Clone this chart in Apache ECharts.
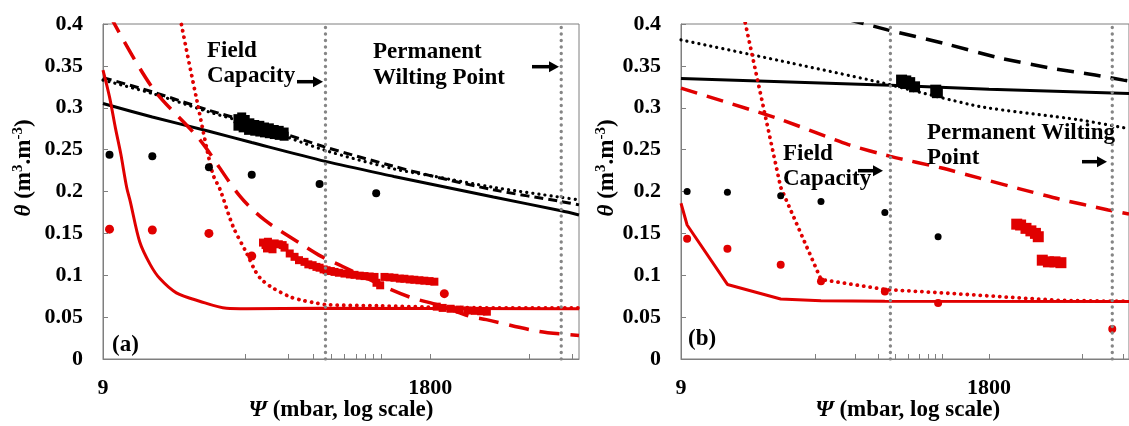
<!DOCTYPE html>
<html><head><meta charset="utf-8">
<script src="https://cdn.jsdelivr.net/npm/echarts@6/dist/echarts.min.js"></script>
<style>html,body{margin:0;padding:0;background:#fff}#c{width:1129px;height:426px}</style>
</head><body><div id="c"></div>
<script>
// ---------- axis data ----------
const xMin = 9, xMax = 20000;
const xTickLabels = [9, 1800];
const xTicks = [9, 90, 180, 270, 360, 450, 540, 630, 720, 810, 1800, 9000, 18000];
const yMin = 0, yMax = 0.4, yStep = 0.05;
const fieldCapacity = 330;
const wiltingPoint = 15000;

// ---------- panel (a) ----------
const aBlackSolid = [[9,0.305],[20,0.289],[50,0.272],[100,0.2585],[330,0.236],[1000,0.218],[1800,0.209],[5000,0.1934],[15000,0.177],[20000,0.172]];
const aBlackDashed = [[9,0.336],[20,0.319],[50,0.297],[100,0.282],[330,0.253],[1000,0.230],[1800,0.219],[5000,0.202],[15000,0.188],[20000,0.184]];
const aBlackDotted = [[9,0.333],[20,0.317],[50,0.295],[100,0.280],[330,0.249],[1000,0.227],[1800,0.219],[5000,0.205],[15000,0.193],[20000,0.190]];
const aRedSolid = [[9,0.345],[10,0.313],[11,0.276],[12,0.245],[13.2,0.205],[14,0.188],[16.3,0.140],[19.3,0.113],[22.6,0.096],[29.5,0.079],[43,0.069],[66.5,0.0605],[92,0.060],[300,0.0605],[20000,0.060]];
const aRedDashed = [[10,0.411],[20,0.324],[43,0.262],[82,0.195],[123,0.166],[217,0.1385],[308,0.1225],[436,0.1105],[900,0.0847],[1350,0.0728],[2090,0.064],[3400,0.051],[4460,0.047],[10440,0.033],[20000,0.028]];
const aRedDotted = [[30,0.43],[32,0.40],[41,0.31],[53,0.222],[60,0.202],[74,0.158],[92,0.1265],[106,0.105],[117,0.095],[140,0.085],[185,0.0744],[227,0.070],[284,0.0668],[336,0.0648],[792,0.0635],[1760,0.062],[4000,0.0612],[20000,0.061]];
const aBlackDots = [[10,0.244],[20,0.242],[50,0.229],[100,0.220],[300,0.209],[750,0.198]];
const aRedDots = [[10,0.155],[20,0.154],[50,0.150],[100,0.123],[2260,0.078]];
const aBlackSquares = [[80,0.287],[85,0.289],[90,0.286],[97,0.282],[105,0.280],[114,0.279],[123,0.277],[133,0.276],[144,0.274],[156,0.273],[169,0.271],
  [80,0.278],[87,0.276],[95,0.273],[105,0.272],[114,0.271],[123,0.270],[133,0.269],[144,0.268],[156,0.267],[169,0.266]];
const aRedSquares = [[120,0.139],[125,0.136],[130,0.140],[135,0.137],[145,0.138],[155,0.137],[165,0.136],[128,0.132],[140,0.131],[170,0.133],
  [185,0.126],[200,0.122],[215,0.118],[235,0.116],[250,0.113],[268,0.112],[285,0.110],[300,0.109],[320,0.107],[336,0.106],[360,0.105],[382,0.104],
  [410,0.103],[449,0.102],[490,0.101],[528,0.1005],[575,0.0995],[621,0.099],[675,0.0985],[730,0.098],[754,0.091],[800,0.088],[858,0.098],[930,0.0975],
  [1008,0.097],[1100,0.096],[1184,0.0958],[1290,0.095],[1391,0.0946],[1510,0.094],[1636,0.0935],[1780,0.093],[1924,0.0923],
  [2000,0.0625],[2200,0.061],[2500,0.060],[2900,0.059],[3300,0.058],[3700,0.0575],[4100,0.057],[4500,0.0565]];

// ---------- panel (b) ----------
const bBlackSolid = [[9,0.335],[330,0.327],[1800,0.322],[20000,0.317]];
const bBlackDashed = [[100,0.414],[314,0.393],[824,0.377],[2130,0.3596],[5350,0.347],[11160,0.339],[18200,0.333],[20000,0.332]];
const bBlackDotted = [[9,0.381],[50,0.356],[265,0.331],[1530,0.3015],[8370,0.2857],[20000,0.275]];
const bRedSolid = [[9,0.186],[10,0.160],[20,0.089],[50,0.0716],[100,0.0695],[300,0.069],[20000,0.0688]];
const bRedDashed = [[9,0.3235],[48,0.287],[160,0.256],[330,0.242],[800,0.228],[1530,0.216],[3000,0.2035],[6000,0.191],[14000,0.178],[20000,0.173]];
const bRedDotted = [[20,0.50],[50,0.205],[100,0.095],[300,0.083],[1000,0.078],[3000,0.073],[6000,0.070],[15000,0.069],[20000,0.069]];
const bBlackDots = [[10,0.200],[20,0.199],[50,0.195],[100,0.188],[300,0.175],[750,0.146]];
const bRedDots = [[10,0.1436],[20,0.1317],[50,0.1126],[100,0.0927],[300,0.0807],[750,0.0668],[15000,0.0358]];
const bBlackSquares = [[400,0.333],[415,0.330],[430,0.332],[445,0.329],[460,0.330],[500,0.325],[720,0.321],[740,0.318]];
const bRedSquares = [[2900,0.161],[3100,0.160],[3400,0.156],[3700,0.153],[4000,0.150],[4200,0.146],[4500,0.118],[5000,0.116],[5600,0.116],[6200,0.115]];

// ---------- styling ----------
const FONT = '"Liberation Serif", "Times New Roman", serif';
const RED = '#e00000';
const GRAY = '#868686';
const AXIS = '#7f7f7f';
const DOT = [0.1, 6];

function line(data, xi, yi, color, dash, width, smooth, cap) {
  return { type: 'line', xAxisIndex: xi, yAxisIndex: yi, data: data, symbol: 'none', showSymbol: false,
    smooth: smooth, silent: true, clip: true,
    lineStyle: { color: color, width: width, type: dash, cap: cap || 'butt' } };
}
function pts(data, xi, yi, color, symbol, size) {
  return { type: 'scatter', xAxisIndex: xi, yAxisIndex: yi, data: data, symbol: symbol, symbolSize: size,
    silent: true, itemStyle: { color: color, opacity: 1 }, z: 5 };
}
function vline(v, xi, yi) {
  return { type: 'line', xAxisIndex: xi, yAxisIndex: yi, data: [[v, yMin], [v, yMax]], symbol: 'none', silent: true, z: 6,
    lineStyle: { color: GRAY, width: 3.4, type: [0.1, 6.4], cap: 'round' } };
}

function logAxis(gi) {
  return { type: 'log', gridIndex: gi, logBase: 10, min: xMin, max: xMax, position: 'bottom',
    axisLine: { show: true, lineStyle: { color: AXIS, width: 1 } }, axisTick: { show: false },
    axisLabel: { show: false }, splitLine: { show: false }, minorTick: { show: false } };
}
function tickAxis(gi) {
  return { type: 'value', gridIndex: gi, min: Math.log10(xMin), max: Math.log10(xMax), position: 'bottom',
    axisLine: { show: false },
    axisTick: { show: true, inside: true, length: 5, customValues: xTicks.map(Math.log10), lineStyle: { color: AXIS } },
    axisLabel: { show: true, customValues: xTickLabels.map(Math.log10), margin: 18,
      formatter: v => String(Math.round(Math.pow(10, v))),
      fontFamily: FONT, fontWeight: 'bold', fontSize: 22, color: '#000' },
    splitLine: { show: false } };
}
function yAx(gi) {
  return { type: 'value', gridIndex: gi, min: yMin, max: yMax, interval: yStep,
    axisLine: { show: true, lineStyle: { color: AXIS } },
    axisTick: { show: true, inside: true, length: 5, lineStyle: { color: AXIS } },
    axisLabel: { margin: 20, fontFamily: FONT, fontWeight: 'bold', fontSize: 22, color: '#000',
      formatter: v => String(+v.toFixed(2)) },
    splitLine: { show: false } };
}

const F23 = 'bold 23px ' + FONT;
function txt(s, x, y, align) {
  return { type: 'text', x: x, y: y, silent: true, z: 10,
    style: { text: s, font: F23, fill: '#000', align: align || 'left', verticalAlign: 'middle' } };
}
function arrow(x1, x2, y) {
  return { type: 'group', silent: true, z: 10, children: [
    { type: 'line', shape: { x1: x1, y1: y, x2: x2 - 8, y2: y }, style: { stroke: '#000', lineWidth: 3.5 } },
    { type: 'polygon', shape: { points: [[x2 - 10, y - 5.5], [x2, y], [x2 - 10, y + 5.5]] }, style: { fill: '#000' } }
  ] };
}
function yTitle(x, y) {
  return { type: 'text', x: x, y: y, rotation: Math.PI / 2, silent: true, z: 10,
    style: { text: '{t|θ}{n| (m}{s|3}{n|.m}{s|-3}{n|)}', align: 'center', verticalAlign: 'middle', fill: '#000',
      rich: {
        t: { font: 'italic bold 23px ' + FONT, lineHeight: 25, verticalAlign: 'bottom' },
        n: { font: F23, lineHeight: 25, verticalAlign: 'bottom' },
        s: { font: 'bold 15px ' + FONT, lineHeight: 15, verticalAlign: 'top' }
      } } };
}
function xTitle(x, y) {
  return { type: 'text', x: x, y: y, silent: true, z: 10,
    style: { text: '{t|Ψ}{n| (mbar, log scale)}', align: 'center', verticalAlign: 'middle', fill: '#000',
      rich: { t: { font: 'italic bold 23px ' + FONT }, n: { font: F23 } } } };
}

const option = {
  animation: false,
  backgroundColor: '#fff',
  grid: [
    { left: 103, top: 24, width: 476, height: 335, show: true, borderColor: AXIS, borderWidth: 1, backgroundColor: 'transparent' },
    { left: 681, top: 24, width: 453.5, height: 335, show: true, borderColor: AXIS, borderWidth: 1, backgroundColor: 'transparent' }
  ],
  xAxis: [logAxis(0), tickAxis(0), logAxis(1), tickAxis(1)],
  yAxis: [yAx(0), yAx(1)],
  series: [
    line(aBlackSolid, 0, 0, '#000', 'solid', 3, 0.3),
    line(aBlackDashed, 0, 0, '#000', [9, 5], 3, 0.3),
    line(aBlackDotted, 0, 0, '#000', DOT, 3.2, 0.3, 'round'),
    line(aRedSolid, 0, 0, RED, 'solid', 3, 0.3),
    line(aRedDashed, 0, 0, RED, [20, 11], 3.5, 0.3),
    line(aRedDotted, 0, 0, RED, [0.1, 6.4], 3.8, 0.3, 'round'),
    pts(aBlackDots, 0, 0, '#000', 'circle', 8),
    pts(aRedDots, 0, 0, RED, 'circle', 9),
    pts(aBlackSquares, 0, 0, '#000', 'rect', 9),
    pts(aRedSquares, 0, 0, RED, 'rect', 8),
    vline(fieldCapacity, 0, 0),
    vline(wiltingPoint, 0, 0),

    line(bBlackSolid, 2, 1, '#000', 'solid', 3, false),
    line(bBlackDashed, 2, 1, '#000', [17, 10], 3.5, 0.2),
    line(bBlackDotted, 2, 1, '#000', DOT, 3.2, 0.2, 'round'),
    line(bRedSolid, 2, 1, RED, 'solid', 3, false),
    line(bRedDashed, 2, 1, RED, [17, 10], 3.5, 0.2),
    line(bRedDotted, 2, 1, RED, [0.1, 6.4], 3.8, false, 'round'),
    pts(bBlackDots, 2, 1, '#000', 'circle', 7),
    pts(bRedDots, 2, 1, RED, 'circle', 8),
    pts(bBlackSquares, 2, 1, '#000', 'rect', 11),
    pts(bRedSquares, 2, 1, RED, 'rect', 11),
    vline(fieldCapacity, 2, 1),
    vline(wiltingPoint, 2, 1)
  ],
  graphic: [
    txt('Field', 207, 51), txt('Capacity', 207, 75.7), arrow(297, 323, 81.7),
    txt('Permanent', 373, 51.7), txt('Wilting Point', 373, 77.7), arrow(532, 559, 66.7),
    txt('(a)', 112, 344.7),
    txt('Field', 783, 154.4), txt('Capacity', 783, 179.4), arrow(858, 883, 170.7),
    txt('Permanent Wilting', 927, 132.7), txt('Point', 927, 158.4), arrow(1082, 1107, 161.7),
    txt('(b)', 688, 338.7),
    yTitle(23, 168), yTitle(606, 168),
    xTitle(341, 410), xTitle(907.7, 410)
  ]
};
const chart = echarts.init(document.getElementById('c'), null, { renderer: 'canvas' });
chart.setOption(option);
</script>
</body></html>
